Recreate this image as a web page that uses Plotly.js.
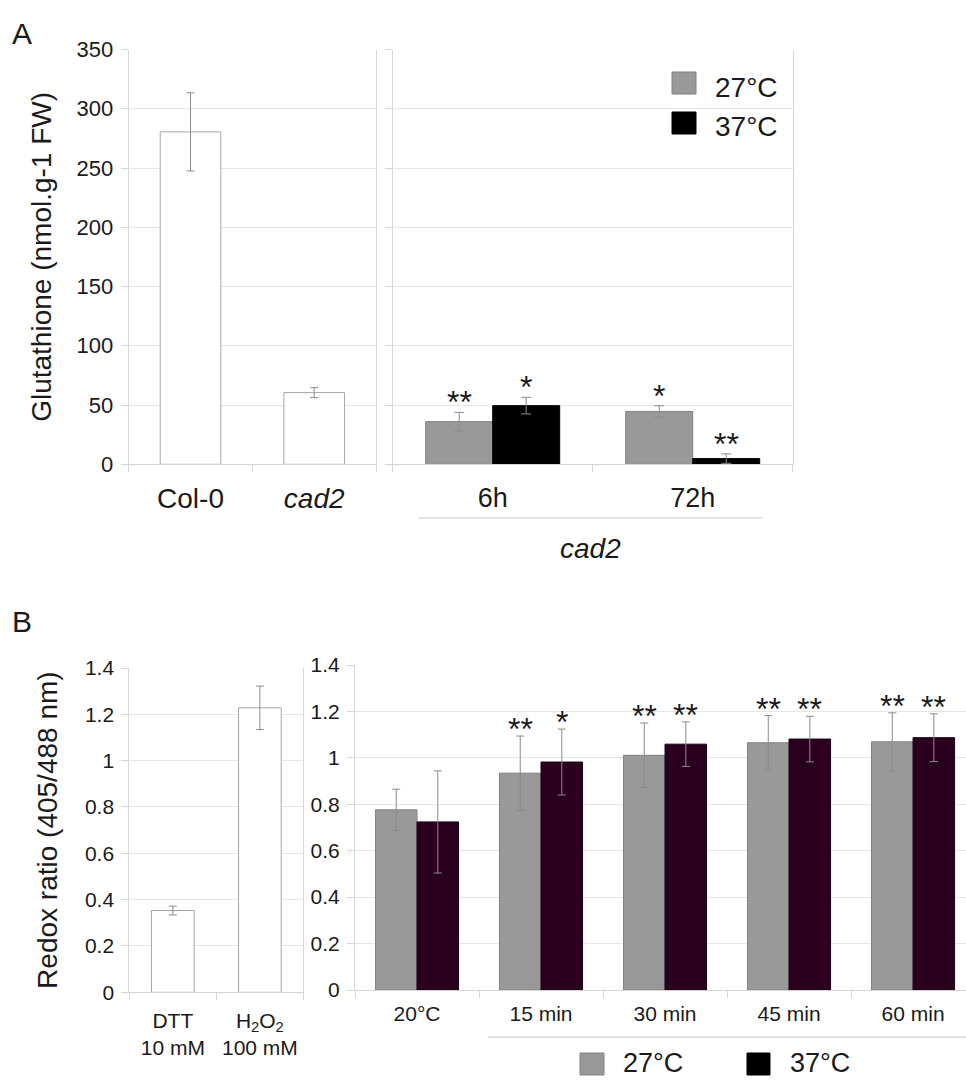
<!DOCTYPE html>
<html><head><meta charset="utf-8">
<script src="https://cdn.plot.ly/plotly-3.0.1.min.js"></script>
<style>html,body{margin:0;padding:0;background:#fff}</style>
</head><body>
<div id="chart" style="width:966px;height:1080px"></div>
<script>
// ---------- Panel A data ----------
const aLeftCats = ['Col-0', '<i>cad2</i>'];
const aLeftVals = [280.5, 60.5];
const aLeftErr  = [33, 4.2];
const aRightCats = ['6h', '72h'];
const a27Vals = [36, 44.6];
const a27Err  = [7.8, 4.8];
const a37Vals = [49.5, 4.8];
const a37Err  = [7, 4];
const a27Stars = ['**', '*'];
const a37Stars = ['*', '**'];
const yTicksA = [0, 50, 100, 150, 200, 250, 300, 350];
const yTickTextA = ['0', '50', '100', '150', '200', '250', '300', '350'];
// ---------- Panel B data ----------
const bLeftCats = ['DTT<br>10 mM', 'H<sub>2</sub>O<sub>2</sub><br>100 mM'];
const bLeftVals = [0.353, 1.228];
const bLeftErr  = [0.019, 0.094];
const bRightCats = ['20°C', '15 min', '30 min', '45 min', '60 min'];
const b27Vals = [0.776, 0.934, 1.011, 1.065, 1.069];
const b27Err  = [0.089, 0.160, 0.139, 0.117, 0.125];
const b37Vals = [0.724, 0.982, 1.059, 1.081, 1.087];
const b37Err  = [0.220, 0.142, 0.096, 0.098, 0.103];
const b27Stars = ['', '**', '**', '**', '**'];
const b37Stars = ['', '*', '**', '**', '**'];
const yTicksB = [0, 0.2, 0.4, 0.6, 0.8, 1, 1.2, 1.4];
const yTickTextB = ['0', '0.2', '0.4', '0.6', '0.8', '1', '1.2', '1.4'];
const seriesNames = ['27°C', '37°C'];

// ---------- styling ----------
const W = 966, H = 1080;
const px = v => v / W;
const py = v => 1 - v / H;
const FONT = 'Liberation Sans, Arial, Helvetica, sans-serif';
const TXT = '#1a1a1a';
const GRID = '#e6e6e6';
const LINE = '#d6d6d6';
const GRAY = '#999999', GRAYLINE = '#808080';
const BLACK = '#000000';
const MAROON = '#2b001f';
const ERR = '#8a8a8a';
const BARGAP = 0.33;
const OFF = (1 - BARGAP) / 4;

function err(arr, w) { return {type: 'data', array: arr, visible: true, color: ERR, thickness: 1, width: w}; }

const traces = [
  {type: 'bar', x: aLeftCats, y: aLeftVals, xaxis: 'x', yaxis: 'y', width: 0.49,
   marker: {color: '#ffffff', line: {color: '#a6a6a6', width: 1}}, error_y: err(aLeftErr, 4), showlegend: false},
  {type: 'bar', name: seriesNames[0], x: aRightCats, y: a27Vals, xaxis: 'x2', yaxis: 'y2',
   marker: {color: GRAY, line: {color: GRAYLINE, width: 1}}, error_y: err(a27Err, 5), showlegend: false},
  {type: 'bar', name: seriesNames[1], x: aRightCats, y: a37Vals, xaxis: 'x2', yaxis: 'y2',
   marker: {color: BLACK, line: {color: BLACK, width: 1}}, error_y: err(a37Err, 5), showlegend: false},
  {type: 'bar', x: bLeftCats, y: bLeftVals, xaxis: 'x3', yaxis: 'y3', width: 0.49,
   marker: {color: '#ffffff', line: {color: '#a6a6a6', width: 1}}, error_y: err(bLeftErr, 4), showlegend: false},
  {type: 'bar', name: seriesNames[0], x: bRightCats, y: b27Vals, xaxis: 'x4', yaxis: 'y4',
   marker: {color: GRAY, line: {color: GRAYLINE, width: 1}}, error_y: err(b27Err, 4), showlegend: false},
  {type: 'bar', name: seriesNames[1], x: bRightCats, y: b37Vals, xaxis: 'x4', yaxis: 'y4',
   marker: {color: MAROON, line: {color: '#1a0012', width: 1}}, error_y: err(b37Err, 4), showlegend: false}
];

function xAxis(dom, anchor, size, standoff, range) {
  const o = {domain: dom, anchor: anchor, type: 'category', showline: true, linecolor: LINE, linewidth: 1,
    ticks: 'outside', tickson: 'boundaries', ticklen: 7, tickcolor: LINE, showgrid: false, zeroline: false,
    tickfont: {family: FONT, size: size, color: TXT}, ticklabelstandoff: standoff, fixedrange: true};
  if (range) o.range = range;
  return o;
}
function yAxis(dom, anchor, range, vals, texts, showLabels, size, mirror, title) {
  const o = {domain: dom, anchor: anchor, range: range, tickmode: 'array', tickvals: vals, ticktext: texts,
    showticklabels: showLabels, showgrid: true, gridcolor: GRID, gridwidth: 1, showline: true, linecolor: LINE,
    linewidth: 1, mirror: mirror, ticks: 'outside', ticklen: 7, tickcolor: LINE, zeroline: false,
    tickfont: {family: FONT, size: size, color: TXT}, ticklabelstandoff: 3, fixedrange: true};
  if (title) o.title = title;
  return o;
}

const annotations = [];
function stars(labels, vals, errs, sign, xref, yref, shift) {
  labels.forEach((s, i) => {
    if (!s) return;
    annotations.push({text: s, x: i + sign * OFF, y: vals[i] + errs[i], xref: xref, yref: yref,
      yanchor: 'bottom', xanchor: 'center', showarrow: false, yshift: shift,
      font: {family: FONT, size: 32, color: TXT}});
  });
}
stars(a27Stars, a27Vals, a27Err, -1, 'x2', 'y2', -10);
stars(a37Stars, a37Vals, a37Err, 1, 'x2', 'y2', -10);
stars(b27Stars, b27Vals, b27Err, -1, 'x4', 'y4', -13);
stars(b37Stars, b37Vals, b37Err, 1, 'x4', 'y4', -13);

function paperText(t, x, y, size, xanchor, italic, yanchor) {
  annotations.push({text: italic ? '<i>' + t + '</i>' : t, x: px(x), y: py(y), xref: 'paper', yref: 'paper',
    xanchor: xanchor, yanchor: yanchor || 'middle', showarrow: false, font: {family: FONT, size: size, color: TXT}});
}
paperText('A', 22, 33, 30, 'center');
paperText('B', 22, 621, 30, 'center');
paperText('cad2', 590, 548, 28, 'center', true);
// legends
paperText(seriesNames[0], 713, 87, 28, 'left');
paperText(seriesNames[1], 713, 126, 28, 'left');
paperText(seriesNames[0], 621, 1080, 27, 'left', false, 'bottom');
paperText(seriesNames[1], 788, 1080, 27, 'left', false, 'bottom');

function rect(x0, y0, x1, y1, fill, line) {
  return {type: 'rect', xref: 'paper', yref: 'paper', x0: px(x0), x1: px(x1), y0: py(y1), y1: py(y0),
    fillcolor: fill, line: {color: line, width: 1}};
}
function hline(x0, x1, y) {
  return {type: 'line', xref: 'paper', yref: 'paper', x0: px(x0), x1: px(x1), y0: py(y), y1: py(y),
    line: {color: '#c8c8c8', width: 1}};
}
const shapes = [
  rect(672, 72, 696, 94, GRAY, GRAYLINE),
  rect(672, 112, 696, 134, BLACK, BLACK),
  rect(580, 1053, 604, 1075, GRAY, GRAYLINE),
  rect(747, 1053, 770, 1075, BLACK, BLACK),
  hline(418, 762, 518),
  hline(488, 966, 1037)
];

const layout = {
  width: W, height: H, margin: {l: 0, r: 0, t: 0, b: 0}, paper_bgcolor: '#ffffff', plot_bgcolor: 'rgba(0,0,0,0)',
  font: {family: FONT, color: TXT}, barmode: 'group', bargap: BARGAP, bargroupgap: 0, showlegend: false,
  xaxis:  xAxis([px(128.7), px(376)], 'y', 28, 9),
  yaxis:  yAxis([py(464.3), py(49.5)], 'x', [0, 350], yTicksA, yTickTextA, true, 22, true,
          {text: 'Glutathione (nmol.g-1 FW)', font: {family: FONT, size: 28, color: TXT}, standoff: 16}),
  xaxis2: xAxis([px(392.7), px(792.7)], 'y2', 27, 9),
  yaxis2: yAxis([py(464.3), py(49.5)], 'x2', [0, 350], yTicksA, yTickTextA, false, 22, true),
  xaxis3: xAxis([px(129.3), px(303.4)], 'y3', 21, 9),
  yaxis3: yAxis([py(992.3), py(668)], 'x3', [0, 1.4], yTicksB, yTickTextB, true, 21, true,
          {text: 'Redox ratio (405/488 nm)', font: {family: FONT, size: 28, color: TXT}, standoff: 19}),
  xaxis4: xAxis([px(355), 1], 'y4', 21, 5, [-0.5, 4.427]),
  yaxis4: yAxis([py(990), py(665)], 'x4', [0, 1.4], yTicksB, yTickTextB, true, 21, false),
  annotations: annotations,
  shapes: shapes
};

Plotly.newPlot('chart', traces, layout, {displayModeBar: false, staticPlot: true});
</script>
</body></html>
